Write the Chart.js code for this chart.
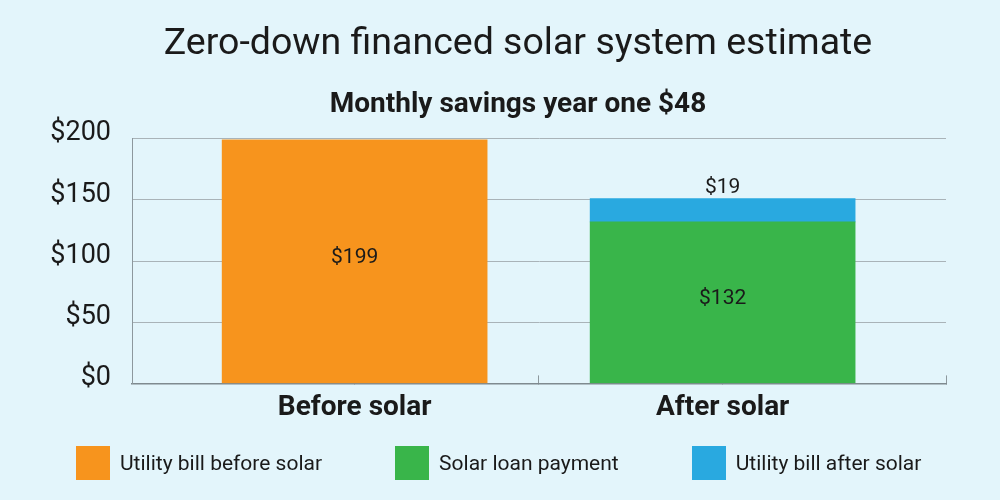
<!DOCTYPE html>
<html>
<head>
<meta charset="utf-8">
<script src="https://cdn.jsdelivr.net/npm/chart.js@4.4.1/dist/chart.umd.min.js"></script>
<style>
  html, body { margin: 0; padding: 0; background: #e3f5fb; }
  #wrap { position: relative; width: 1000px; height: 500px; }
  #legend { position: absolute; left: 76px; top: 446px; display: flex; gap: 73px;
            font-family: Roboto, sans-serif; font-size: 21px; color: #1a1a1a; }
  .item { display: flex; align-items: center; height: 34px; }
  .box { width: 34px; height: 34px; margin-right: 10px; }
</style>
</head>
<body>
<div id="wrap">
  <canvas id="solarChart" width="1000" height="500"></canvas>
  <div id="legend"></div>
</div>
<script>
const categories = ['Before solar', 'After solar'];
const utilityBefore = [199, null];
const loanPayment = [null, 132];
const utilityAfter = [null, 19];
const yTicks = [0, 50, 100, 150, 200];
const titleText = 'Zero-down financed solar system estimate';
const subtitleText = 'Monthly savings year one $48';

const textColor = '#1a1a1a';
const font = 'Roboto';

// x is the category index, so the bars sit on a linear scale
const toPoints = values => values
  .map((v, i) => ({ x: i, y: v }))
  .filter(p => p.y != null);

// draws the $ values on the bars
const barLabels = {
  id: 'barLabels',
  afterDatasetsDraw(chart) {
    const ctx = chart.ctx;
    ctx.save();
    ctx.font = '21px ' + font;
    ctx.fillStyle = textColor;
    ctx.textAlign = 'center';
    ctx.textBaseline = 'middle';
    chart.data.datasets.forEach((ds, i) => {
      chart.getDatasetMeta(i).data.forEach((bar, j) => {
        const v = ds.data[j].y;
        const y = ds.labelAbove ? bar.y - 11 : (bar.y + bar.base) / 2 - 4;
        ctx.fillText('$' + v, bar.x, y);
      });
    });
    ctx.restore();
  }
};

const xMin = -0.605, xMax = 1.607;

const chart = new Chart(document.getElementById('solarChart'), {
  type: 'bar',
  data: {
    datasets: [
      { label: 'Utility bill before solar', data: toPoints(utilityBefore), backgroundColor: '#f7941d' },
      { label: 'Solar loan payment', data: toPoints(loanPayment), backgroundColor: '#39b54a' },
      { label: 'Utility bill after solar', data: toPoints(utilityAfter), backgroundColor: '#29a9e0', labelAbove: true },
    ],
  },
  options: {
    responsive: false,
    animation: false,
    barThickness: 265,
    // left/right padding uneven so the titles sit a little right of centre, like the original
    layout: { padding: { left: 46, right: 10, top: 0, bottom: 59 } },
    plugins: {
      legend: { display: false },
      tooltip: { enabled: false },
      title: {
        display: true,
        text: titleText,
        color: textColor,
        font: { family: font, size: 37.5, weight: 'normal' },
        padding: { top: 22, bottom: 21 },
      },
      subtitle: {
        display: true,
        text: subtitleText,
        color: textColor,
        font: { family: font, size: 28, weight: 'bold' },
        padding: { top: 0, bottom: 17 },
      },
    },
    scales: {
      x: {
        type: 'linear',
        stacked: true,
        offset: false,
        min: xMin,
        max: xMax,
        afterBuildTicks: s => { s.ticks = [0, 0.5, 1, xMax].map(v => ({ value: v })); },
        grid: { offset: false, drawOnChartArea: false, tickLength: -8, color: '#8d989d' },
        border: { color: '#7f8a8f', width: 1.5 },
        ticks: { font: { family: font, size: 28, weight: 'bold' }, color: textColor, padding: 16,
                 callback: v => Number.isInteger(v) ? categories[v] : '' },
      },
      y: {
        stacked: true,
        min: 0,
        max: 200,
        afterBuildTicks: s => { s.ticks = yTicks.map(v => ({ value: v })); },
        afterFit: s => { s.width = 86; },
        grid: { color: '#a9b3b8', drawTicks: false },
        border: { color: '#8d989d' },
        ticks: { font: { family: font, size: 27 }, color: textColor, padding: 21, labelOffset: -5,
                 callback: v => '$' + v },
      },
      // empty spacer on the right
      yRight: {
        position: 'right',
        grid: { display: false },
        border: { display: false },
        ticks: { display: false },
        afterFit: s => { s.width = 44; },
      },
    },
  },
  plugins: [barLabels],
});

// html legend, kept in dataset order
const legendEl = document.getElementById('legend');
chart.data.datasets.forEach(ds => {
  const item = document.createElement('div');
  item.className = 'item';
  item.innerHTML = '<span class="box" style="background:' + ds.backgroundColor + '"></span>' + ds.label;
  legendEl.appendChild(item);
});
</script>
</body>
</html>
